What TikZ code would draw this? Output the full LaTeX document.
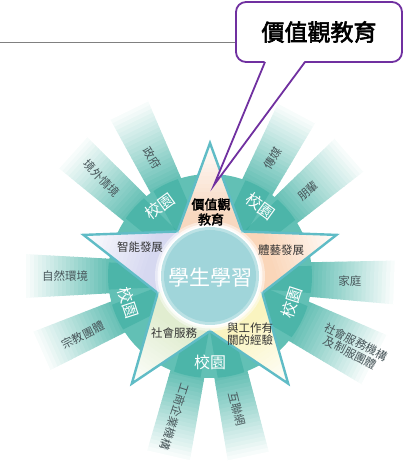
\documentclass[tikz,border=0pt]{standalone}
\usepackage{fontspec}
\newfontfamily\cjk{Noto Sans CJK TC}
\newfontfamily\cjkb[FakeBold=2.5]{Noto Sans CJK TC}
\usetikzlibrary{calc}
\definecolor{raycol}{RGB}{55,172,158}
\definecolor{ringcol}{RGB}{98,192,181}
\definecolor{starcol}{RGB}{96,188,198}
\definecolor{circcol}{RGB}{160,213,218}
\definecolor{armtop}{RGB}{248,216,192}
\definecolor{armleft}{RGB}{214,216,240}
\definecolor{armright}{RGB}{250,214,185}
\definecolor{armbl}{RGB}{225,237,208}
\definecolor{armbr}{RGB}{250,244,192}
\definecolor{callcol}{RGB}{112,48,160}
\definecolor{labcol}{RGB}{72,86,90}
\definecolor{linecol}{RGB}{128,128,128}
\begin{document}
\begin{tikzpicture}[x=1pt,y=1pt,
  raylab/.style={font=\cjk\fontsize{11.5}{13}\selectfont, text=labcol, inner sep=0pt, align=center},
  ringlab/.style={font=\cjk\fontsize{16}{16}\selectfont, text=white, inner sep=0pt},
  armlab/.style={font=\cjk\fontsize{11.5}{13}\selectfont, text=black!80, inner sep=0pt, align=center},
  calloutline/.style={draw=callcol, line width=1.8pt}]
\useasboundingbox (0,0) rectangle (403,472);
\coordinate (C) at (210,196);
% grey rule
\coordinate (ruleL) at (0,430);
\coordinate (ruleR) at (236,430);
\draw[linecol, line width=0.9pt] (ruleL) -- (ruleR);
% rays, outer part (bands widening outwards)
\foreach \a/\wa/\wb in {116/14/22,138/14/22,62/14/22,41/14/23,-2/14/23,-27/18/29,-78/14/22,-103/14/23,204/14/22,180/14/23}{
  \begin{scope}[shift={(C)},rotate=\a]
    \clip (40,-\wa) -- (205,-\wb) -- (205,\wb) -- (40,\wa) -- cycle;
    \foreach \i in {0,...,24}{
      \pgfmathtruncatemacro\p{max(0,80-3.6*\i)}
      \fill[raycol!\p!white] (96+4*\i,-40) rectangle (100.6+4*\i,40);
    }
  \end{scope}
}
% ring
\fill[ringcol] (C) circle (102);
\begin{scope}
  \clip (C) circle (102);
  \foreach \a/\wa in {116/14,138/14,62/14,41/14,-2/14,-27/18,-78/14,-103/14,204/14,180/14}{
    \begin{scope}[shift={(C)},rotate=\a]
      \fill[raycol, opacity=0.5] (20,-0.7*\wa) -- (110,-\wa) -- (110,\wa) -- (20,0.7*\wa) -- cycle;
    \end{scope}
  }
\end{scope}
% star arms
\foreach \t/\c in {90/armtop,162/armleft,18/armright,234/armbl,306/armbr}{
  \begin{scope}[shift={(C)},rotate=\t-90]
    \clip (0,0) -- (54:55) -- (90:133) -- (126:55) -- cycle;
    \fill[\c] (-60,-5) rectangle (60,62);
    \foreach \i in {0,...,18}{
      \pgfmathtruncatemacro\p{max(0,100-5.4*\i)}
      \fill[\c!\p!white] (-60,60+4*\i) rectangle (60,64.6+4*\i);
    }
  \end{scope}
}
% star outline
\begin{scope}[shift={(C)}]
  \draw[starcol, line width=2.4pt, line join=miter]
    (90:133) -- (54:55) -- (18:133) -- (-18:55) -- (-54:133) -- (-90:55)
    -- (-126:133) -- (-162:55) -- (162:133) -- (126:55) -- cycle;
\end{scope}
% centre circle with halo
\fill[white, opacity=0.45] (C) circle (55);
\fill[white, opacity=0.7] (C) circle (52.5);
\fill[white] (C) circle (50.5);
\fill[circcol!70!white] (C) circle (49);
\fill[circcol] (C) circle (46);
\node[font=\cjk\fontsize{21}{21}\selectfont, text=white, inner sep=0pt] (centre) at ($(C)+(0,-2)$) {學生學習};
% arm labels
\node[armlab, font=\cjkb\fontsize{13}{15}\selectfont, text=black] (valued) at (211,260) {價值觀\\教育};
\node[armlab] (intel) at (140,225) {智能發展};
\node[armlab] (arts) at (281,222) {體藝發展};
\node[armlab] (social) at (174,139) {社會服務};
\node[armlab, font=\cjk\fontsize{11.5}{12.5}\selectfont] (work) at (250,138) {與工作有\\關的經驗};
% campus labels on ring
\node[ringlab, rotate=36] (campus1) at ($(C)+(126:86)$) {校園};
\node[ringlab, rotate=-36] (campus2) at ($(C)+(54:86)$) {校園};
\node[ringlab, rotate=72] (campus3) at ($(C)+(-18:86)$) {校園};
\node[ringlab] (campus4) at ($(C)+(-90:86)$) {校園};
\node[ringlab, rotate=-72] (campus5) at ($(C)+(198:86)$) {校園};
% ray labels
\node[raylab, rotate=-58] (gov) at ($(C)+(116:131)$) {政府};
\node[raylab, rotate=-46] (abroad) at ($(C)+(138:146)$) {境外情境};
\node[raylab, rotate=58] (media) at ($(C)+(62:133)$) {傳媒};
\node[raylab, rotate=40] (peers) at ($(C)+(41:130)$) {朋輩};
\node[raylab] (family) at ($(C)+(-2:140)$) {家庭};
\node[raylab, rotate=-27, font=\cjk\fontsize{11.5}{12.5}\selectfont] (orgs) at ($(C)+(-26.5:160)$) {社會服務機構\\及制服團體};
\node[raylab, rotate=-76] (net) at ($(C)+(-78.5:136)$) {互聯網};
\node[raylab, rotate=-108] (biz) at ($(C)+(-104:145)$) {工商企業機構};
\node[raylab, rotate=27] (relig) at ($(C)+(205:140)$) {宗教團體};
\node[raylab] (nature) at ($(C)+(180:145)$) {自然環境};
% callout
\coordinate (tip) at (214,287);
\coordinate (pl) at (265,410);
\coordinate (pr) at (305,410);
\draw[calloutline, fill=white, rounded corners=10pt] (236,410) rectangle (402,470);
\fill[white] ($(pl)+(0,1.5)$) -- (tip) -- ($(pr)+(0,1.5)$) -- cycle;
\draw[calloutline, line join=miter] (pl) -- (tip) -- (pr);
\node[font=\cjkb\fontsize{23}{23}\selectfont, inner sep=0pt] (calltext) at (319,440) {價值觀教育};
\end{tikzpicture}
\end{document}
